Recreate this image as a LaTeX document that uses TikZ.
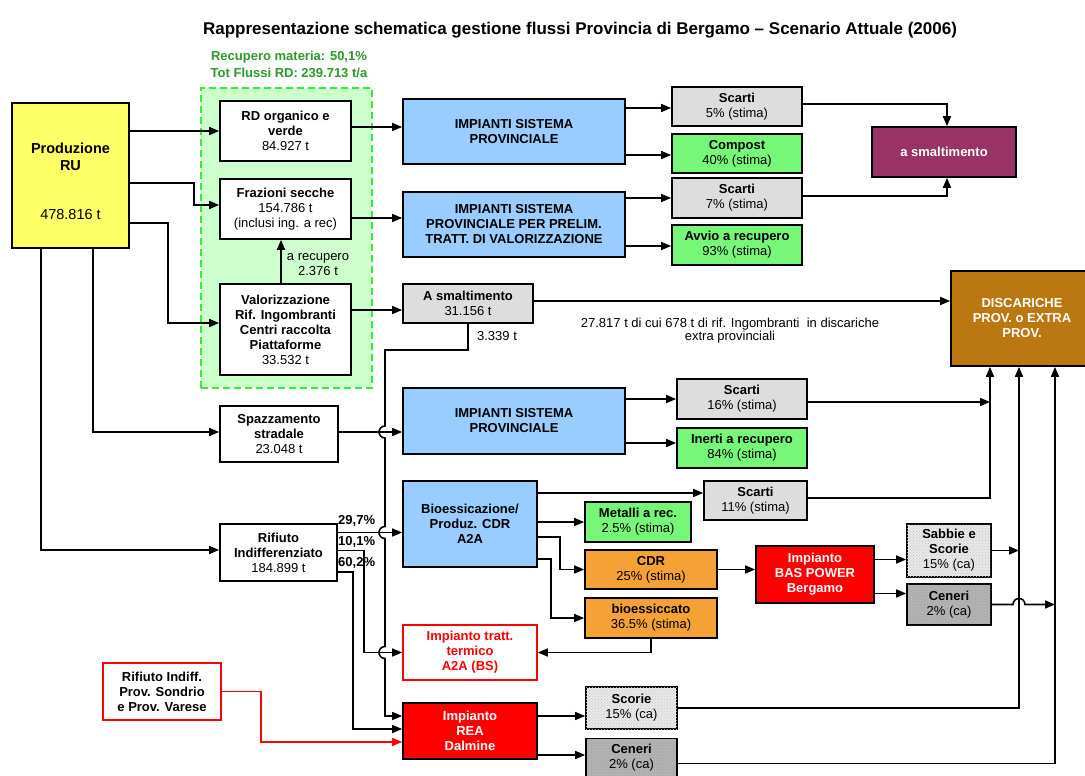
\documentclass[tikz,border=0pt]{standalone}
\usepackage{fontspec}
\setmainfont{Liberation Sans}
\usetikzlibrary{arrows.meta,patterns}

\definecolor{giallo}{HTML}{FFFF66}
\definecolor{verdino}{HTML}{CCFFCC}
\definecolor{verdebordo}{HTML}{33EE33}
\definecolor{verdetesto}{HTML}{2A9A2A}
\definecolor{azzurro}{HTML}{99CCFF}
\definecolor{grigio}{HTML}{DDDDDD}
\definecolor{verde}{HTML}{77F777}
\definecolor{arancio}{HTML}{F4A235}
\definecolor{rosso}{HTML}{FF0000}
\definecolor{viola}{HTML}{993366}
\definecolor{marrone}{HTML}{BB7711}

\newcommand\boxfont{\fontsize{13}{15}\selectfont}
\newcommand\bigboxfont{\fontsize{14.5}{16.5}\selectfont}

\tikzset{
  box/.style={draw=black, line width=1.7pt, align=center, inner sep=1pt, font=\boxfont},
  wh/.style 2 args={minimum width=#1pt, minimum height=#2pt},
  flow/.style={line width=1.6pt, ->},
  scritta/.style={font=\boxfont, align=center, inner sep=0pt},
  scorie/.style={fill=gray!18, postaction={pattern=crosshatch dots, pattern color=gray!45}},
  ceneri/.style={fill=gray!60, postaction={pattern=dots, pattern color=gray!85}},
}

\begin{document}
\begin{tikzpicture}[x=1pt, y=-1pt, >={Triangle[length=10pt,width=8pt]}]
    \fill[white] (0,0) rectangle (1085,776);
    \useasboundingbox (0,0) rectangle (1085,776);

    % ===== TITOLO =====
    \node[font=\fontsize{17}{20}\selectfont\bfseries] (titolo) at (580,30)
        {Rappresentazione schematica gestione flussi Provincia di Bergamo – Scenario Attuale (2006)};

    % ===== RACCOLTA DIFFERENZIATA =====
    \node[scritta, font=\boxfont\bfseries, text=verdetesto] (rdtot) at (289,64.5)
        {Recupero materia: 50,1\%\\[2pt]Tot Flussi RD: 239.713 t/a};
    \node[draw=verdebordo, fill=verdino, line width=2.2pt, dash pattern=on 7pt off 4pt, wh={171}{300}] (areaRD) at (286.5,238) {};

    % produzione
    \node[box, fill=giallo, wh={117}{145}] (prod) at (70.5,175.5) {};
    \node[scritta, font=\bigboxfont\bfseries] (prodnome) at (70.5,157) {Produzione\\RU};
    \node[scritta, font=\bigboxfont] (prodval) at (70.5,215) {478.816 t};

    \node[box, fill=white, wh={131}{60}] (rd) at (285.5,131) {\textbf{RD organico e}\\\textbf{verde}\\84.927 t};
    \node[box, fill=white, wh={131}{60}] (fraz) at (285.5,209) {\textbf{Frazioni secche}\\154.786 t\\(inclusi ing. a rec)};
    \node[box, fill=white, wh={131}{91}] (valo) at (285.5,329.5)
        {\textbf{Valorizzazione}\\\textbf{Rif. Ingombranti}\\\textbf{Centri raccolta}\\\textbf{Piattaforme}\\33.532 t};
    \node[box, fill=white, wh={118}{56}] (spaz) at (279,434) {\textbf{Spazzamento}\\\textbf{stradale}\\23.048 t};
    \node[box, fill=white, wh={117}{57}] (rifi) at (278.5,552.5) {\textbf{Rifiuto}\\\textbf{Indifferenziato}\\184.899 t};
    \node[box, draw=rosso, fill=white, wh={118}{57}, font=\boxfont\bfseries] (sondrio) at (162,691.5)
        {Rifiuto Indiff.\\Prov. Sondrio\\e Prov. Varese};

    % ===== IMPIANTI =====
    \node[box, fill=azzurro, wh={222}{65}, font=\boxfont\bfseries] (imp1) at (514,131.5) {IMPIANTI SISTEMA\\PROVINCIALE};
    \node[box, fill=azzurro, wh={222}{65}, font=\boxfont\bfseries] (imp2) at (514,224.5)
        {IMPIANTI SISTEMA\\PROVINCIALE PER PRELIM.\\TRATT. DI VALORIZZAZIONE};
    \node[box, fill=grigio, wh={130}{39}] (asm) at (468,303.5) {\textbf{A smaltimento}\\31.156 t};
    \node[box, fill=azzurro, wh={222}{66}, font=\boxfont\bfseries] (imp3) at (514,421) {IMPIANTI SISTEMA\\PROVINCIALE};
    \node[box, fill=azzurro, wh={134}{86}, font=\boxfont\bfseries] (bio) at (470,524) {Bioessicazione/\\Produz. CDR\\A2A};
    \node[box, draw=rosso, fill=white, text=rosso, wh={134}{55}, font=\boxfont\bfseries] (term) at (470,652.5)
        {Impianto tratt.\\termico\\A2A (BS)};
    \node[box, fill=rosso, text=white, wh={134}{56}, font=\boxfont\bfseries] (rea) at (470,731) {Impianto\\REA\\Dalmine};

    % ===== USCITE =====
    \node[box, fill=grigio, wh={130}{39}] (sc5) at (737,106.5) {\textbf{Scarti}\\5\% (stima)};
    \node[box, fill=verde, wh={130}{39}] (comp) at (737,153.5) {\textbf{Compost}\\40\% (stima)};
    \node[box, fill=grigio, wh={130}{40}] (sc7) at (737,198) {\textbf{Scarti}\\7\% (stima)};
    \node[box, fill=verde, wh={130}{40}] (avv) at (737,245) {\textbf{Avvio a recupero}\\93\% (stima)};
    \node[box, fill=viola, text=white, wh={144}{50}, font=\boxfont\bfseries] (smalt) at (944,152) {a smaltimento};
    \node[box, fill=marrone, text=white, wh={142}{95}, font=\boxfont\bfseries] (disc) at (1022,318.5)
        {DISCARICHE\\PROV. o EXTRA\\PROV.};

    \node[box, fill=grigio, wh={130}{40}] (sc16) at (742,399) {\textbf{Scarti}\\16\% (stima)};
    \node[box, fill=verde, wh={130}{40}] (inerti) at (742,448) {\textbf{Inerti a recupero}\\84\% (stima)};
    \node[box, fill=grigio, wh={103}{39}] (sc11) at (755.5,500.5) {\textbf{Scarti}\\11\% (stima)};
    \node[box, fill=verde, wh={106}{40}] (metal) at (638,522) {\textbf{Metalli a rec.}\\2.5\% (stima)};
    \node[box, fill=arancio, wh={132}{39}] (cdr) at (651,569.5) {\textbf{CDR}\\25\% (stima)};
    \node[box, fill=arancio, wh={132}{40}] (bioe) at (651,618) {\textbf{bioessiccato}\\36.5\% (stima)};
    \node[box, fill=rosso, text=white, wh={118}{57}, font=\boxfont\bfseries] (bas) at (815,574.5) {Impianto\\BAS POWER\\Bergamo};
    \node[box, scorie, wh={84}{53}] (sabb) at (949,550.5) {\textbf{Sabbie e}\\\textbf{Scorie}\\15\% (ca)};
    \node[box, ceneri, wh={84}{41}] (cen1) at (949,604.5) {\textbf{Ceneri}\\2\% (ca)};
    \node[box, scorie, wh={91}{42}] (scor) at (631.5,708) {\textbf{Scorie}\\15\% (ca)};
    \node[box, ceneri, wh={91}{39}] (cen2) at (631.5,758) {\textbf{Ceneri}\\2\% (ca)};

    % ===== ETICHETTE =====
    \node[scritta] (recup) at (318,265) {a recupero\\2.376 t};
    \node[scritta] (q3339) at (497,336) {3.339 t};
    \node[scritta, font=\fontsize{13}{13}\selectfont] (notadisc) at (730,331)
        {27.817 t di cui 678 t di rif. Ingombranti\ \ in discariche\\extra provinciali};
    \node[scritta, font=\boxfont\bfseries, anchor=west] (pc297) at (338,521) {29,7\%};
    \node[scritta, font=\boxfont\bfseries, anchor=west] (pc101) at (338,542) {10,1\%};
    \node[scritta, font=\boxfont\bfseries, anchor=west] (pc602) at (338,563) {60,2\%};

    % punti di raccordo
    \coordinate (bus) at (385,350);
    \coordinate (pspaz) at ([yshift=2pt]spaz.east);
    \coordinate (p297) at ([yshift=20pt]rifi.east);
    \coordinate (dA) at ([xshift=-32pt]disc.south);
    \coordinate (dB) at ([xshift=-3pt]disc.south);
    \coordinate (dC) at ([xshift=33pt]disc.south);

    % ===== FLUSSI =====
    % dalla produzione
    \draw[flow] (prod.east |- rd.west) -- (rd.west);
    \draw[flow] ([yshift=-7.5pt]prod.east) -- ++(64,0) |- ([yshift=4pt]fraz.west);
    \draw[flow] ([yshift=-47.5pt]prod.east) -- ++(38,0) |- ([yshift=6.5pt]valo.west);
    \draw[flow] ([xshift=22.5pt]prod.south) |- (pspaz -| spaz.west);
    \draw[flow] ([xshift=-29.5pt]prod.south) |- ([yshift=2.5pt]rifi.west);

    % area RD
    \draw[flow] ([yshift=4pt]rd.east) -- ([yshift=4pt]rd.east -| imp1.west);
    \draw[flow] ([yshift=-9pt]fraz.east) -- ([yshift=-9pt]fraz.east -| imp2.west);
    \draw[flow] ([xshift=-4.5pt]valo.north) -- ([xshift=-4.5pt]fraz.south);
    \draw[flow] ([yshift=19.5pt]valo.east) -- ([yshift=19.5pt]valo.east -| asm.west);

    % impianti provinciali
    \draw[flow] ([yshift=23.5pt]imp1.east) -- ([yshift=23.5pt]imp1.east -| sc5.west);
    \draw[flow] ([yshift=-23.5pt]imp1.east) -- ([yshift=-23.5pt]imp1.east -| comp.west);
    \draw[flow] ([yshift=26.5pt]imp2.east) -- ([yshift=26.5pt]imp2.east -| sc7.west);
    \draw[flow] ([yshift=-21.5pt]imp2.east) -- ([yshift=-21.5pt]imp2.east -| avv.west);
    \draw[flow] ([yshift=2.5pt]sc5.east) -| ([xshift=3pt]smalt.north);
    \draw[flow] ([yshift=2pt]sc7.east) -| ([xshift=3pt]smalt.south);

    % a smaltimento e 3.339 t
    \draw[flow] ([yshift=2.5pt]asm.east) -- ([yshift=2.5pt]asm.east -| disc.west);
    \draw[flow] (asm.south) |- (bus)
        -- ([yshift=6pt]bus |- pspaz) arc[start angle=90, end angle=270, radius=6pt]
        -- ([yshift=6pt]bus |- p297) arc[start angle=90, end angle=270, radius=6pt]
        -- ([yshift=6pt]bus |- term.west) arc[start angle=90, end angle=270, radius=6pt]
        |- ([yshift=15pt]rea.west);

    % spazzamento
    \draw[flow] (pspaz) -- (pspaz -| imp3.west);
    \draw[flow] ([yshift=22pt]imp3.east) -- ([yshift=22pt]imp3.east -| sc16.west);
    \draw[flow] ([yshift=-22pt]imp3.east) -- ([yshift=-22pt]imp3.east -| inerti.west);
    \draw[flow] ([yshift=-3pt]sc16.east) -- ([yshift=-3pt]sc16.east -| dA);

    % indifferenziato
    \draw[flow] (p297) -- (p297 -| bio.west);
    \draw[flow] ([yshift=2pt]rifi.east) -- ++(26,0) |- (term.west);
    \draw[flow] ([yshift=-19.5pt]rifi.east) -- ++(15,0) |- ([yshift=2pt]rea.west);
    \draw[flow, color=rosso] (sondrio.east) -- ++(39,0) |- ([yshift=-11pt]rea.west);

    % bioessicazione
    \draw[flow] ([yshift=31pt]bio.east) -- ([yshift=31pt]bio.east -| sc11.west);
    \draw[flow] ([yshift=2.5pt]sc11.east) -| (dA);
    \draw[flow] (bio.east |- metal.west) -- (metal.west);
    \draw[flow] ([yshift=-13pt]bio.east) -- ++(22,0) |- (cdr.west);
    \draw[flow] ([yshift=-35pt]bio.east) -- ++(13,0) |- (bioe.west);
    \draw[flow] (bioe.south) |- (term.east);
    \draw[flow] (cdr.east) -- (cdr.east -| bas.west);

    % BAS POWER
    \draw[flow] ([yshift=15pt]bas.east) -- ([yshift=15pt]bas.east -| sabb.west);
    \draw[flow] ([yshift=-19pt]bas.east) -- ([yshift=-19pt]bas.east -| cen1.west);
    \draw[flow] (sabb.east) -- (sabb.east -| dB);
    \draw[flow] (cen1.east) -- ([xshift=-6pt]cen1.east -| dB) arc[start angle=180, end angle=0, radius=6pt]
        -- (cen1.east -| dC);

    % REA
    \draw[flow] ([yshift=15pt]rea.east) -- ([yshift=15pt]rea.east -| scor.west);
    \draw[flow] ([yshift=-24pt]rea.east) -- ([yshift=-24pt]rea.east -| cen2.west);
    \draw[flow] (scor.east) -| (dB);
    \draw[flow] ([yshift=-5.5pt]cen2.east) -| (dC);
\end{tikzpicture}
\end{document}
